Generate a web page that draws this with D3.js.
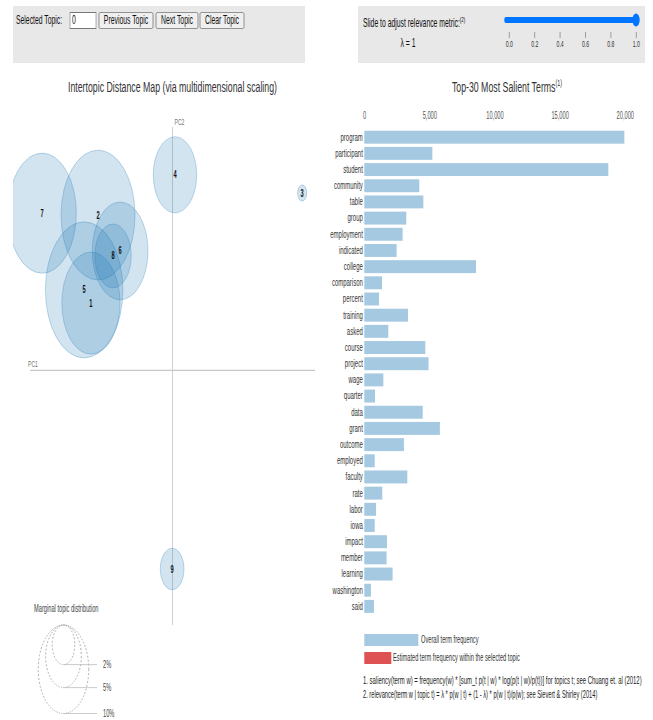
<!DOCTYPE html>
<html>
<head>
<meta charset="utf-8">
<script src="https://cdn.jsdelivr.net/npm/d3@7"></script>
<style>
  body { margin: 0; background: #fff; }
  text { font-family: "Liberation Sans", Arial, sans-serif; }
</style>
</head>
<body>
<script>
// topics (intertopic distance map)
const topicIds = [1, 2, 3, 4, 5, 6, 7, 8, 9];
const topicPC1 = [-0.229, -0.209, 0.364, 0.007, -0.248, -0.147, -0.366, -0.167, -0.001];
const topicPC2 = [0.107, 0.247, 0.282, 0.311, 0.128, 0.190, 0.250, 0.182, -0.316];
const topicPct = [13.3, 21.5, 0.33, 7.4, 23.6, 12.2, 18.4, 5.2, 2.2];   // marginal topic distribution, %

// top-30 most salient terms
const terms = ['program', 'participant', 'student', 'community', 'table', 'group', 'employment',
  'indicated', 'college', 'comparison', 'percent', 'training', 'asked', 'course', 'project', 'wage',
  'quarter', 'data', 'grant', 'outcome', 'employed', 'faculty', 'rate', 'labor', 'iowa', 'impact',
  'member', 'learning', 'washington', 'said'];
const termFreq = [19950, 5220, 18720, 4220, 4530, 3220, 2940, 2480, 8570, 1360, 1130, 3350, 1840,
  4680, 4930, 1460, 820, 4480, 5800, 3040, 800, 3300, 1380, 900, 800, 1740, 1710, 2170, 510, 740];
const freqTicks = [0, 5000, 10000, 15000, 20000];

const legendPct = [2, 5, 10];
const lambdaTicks = [0, 0.2, 0.4, 0.6, 0.8, 1.0];
const lambda = 1;
const buttons = ['Previous Topic', 'Next Topic', 'Clear Topic'];

const width = 653;
const height = 720;
const sx = 0.57;               // the whole page is drawn squeezed horizontally
const ix = v => v / sx;        // page x -> inner x

const blue = '#1f77b4';
const red = '#d62728';

const svg = d3.select('body').append('svg')
  .attr('width', width)
  .attr('height', height);

const root = svg.append('g').attr('transform', `scale(${sx},1)`);

// ---------- top control panels ----------
root.append('rect')
  .attr('x', ix(13)).attr('y', 6)
  .attr('width', ix(292)).attr('height', 57)
  .attr('fill', '#e8e8e8');
root.append('rect')
  .attr('x', ix(358)).attr('y', 6)
  .attr('width', ix(287)).attr('height', 57)
  .attr('fill', '#e8e8e8');

root.append('text')
  .attr('x', ix(16)).attr('y', 24)
  .attr('font-size', 12).attr('fill', '#111')
  .text('Selected Topic:');

root.append('rect')
  .attr('x', ix(70)).attr('y', 12.5)
  .attr('width', ix(26)).attr('height', 16)
  .attr('fill', '#fff').attr('stroke', '#777').attr('stroke-width', 1);
root.append('text')
  .attr('x', ix(72)).attr('y', 24.5)
  .attr('font-size', 12).attr('fill', '#111')
  .text('0');

const buttonX = [99, 156, 200];
const buttonW = [54, 42, 44];
buttons.forEach((b, i) => {
  root.append('rect')
    .attr('x', ix(buttonX[i])).attr('y', 12.5)
    .attr('width', ix(buttonW[i])).attr('height', 16)
    .attr('rx', 2)
    .attr('fill', '#efefef').attr('stroke', '#777').attr('stroke-width', 1);
  root.append('text')
    .attr('x', ix(buttonX[i] + buttonW[i] / 2)).attr('y', 24.5)
    .attr('text-anchor', 'middle')
    .attr('font-size', 12).attr('fill', '#111')
    .text(b);
});

// relevance slider
const sliderLabel = root.append('text')
  .attr('x', ix(363)).attr('y', 27)
  .attr('font-size', 12).attr('fill', '#111')
  .text('Slide to adjust relevance metric:');
sliderLabel.append('tspan')
  .attr('font-size', 8).attr('dy', -5)
  .text('(2)');

root.append('text')
  .attr('x', ix(408)).attr('y', 47)
  .attr('text-anchor', 'middle')
  .attr('font-size', 12).attr('fill', '#111')
  .text('\u03bb = ' + lambda);

const lam = d3.scaleLinear().domain([0, 1]).range([ix(509), ix(636)]);

root.append('line')
  .attr('x1', lam(0) - ix(3)).attr('x2', lam(lambda))
  .attr('y1', 20).attr('y2', 20)
  .attr('stroke', '#0075ff').attr('stroke-width', 6)
  .attr('stroke-linecap', 'round');
root.append('circle')
  .attr('cx', lam(lambda)).attr('cy', 20).attr('r', 6.5)
  .attr('fill', '#0075ff');

const lamAxis = root.append('g')
  .attr('transform', 'translate(0,32)')
  .call(d3.axisBottom(lam).tickValues(lambdaTicks).tickSize(6).tickPadding(3).tickFormat(d3.format('.1f')));
lamAxis.select('.domain').remove();
lamAxis.selectAll('line').attr('stroke', '#888');
lamAxis.selectAll('text').attr('font-size', 9).attr('fill', '#333')
  .attr('font-family', '"Liberation Sans", Arial, sans-serif');

// ---------- intertopic distance map ----------
root.append('text')
  .attr('x', ix(172.5)).attr('y', 92)
  .attr('text-anchor', 'middle')
  .attr('font-size', 15.4).attr('fill', '#333')
  .text('Intertopic Distance Map (via multidimensional scaling)');

const x = d3.scaleLinear().domain([-0.4, 0.4]).range([ix(30), ix(315)]);
const y = d3.scaleLinear().domain([-0.405, 0.395]).range([625, 122]);
const rad = d3.scaleSqrt().domain([0, 100]).range([0, 140]);

root.append('line')
  .attr('x1', x.range()[0]).attr('x2', x.range()[1])
  .attr('y1', y(0)).attr('y2', y(0))
  .attr('stroke', '#c8c8c8').attr('stroke-width', 1.2);
root.append('line')
  .attr('x1', x(0)).attr('x2', x(0))
  .attr('y1', 127).attr('y2', y.range()[0])
  .attr('stroke', '#c8c8c8').attr('stroke-width', 1.5);
root.append('text')
  .attr('x', ix(28)).attr('y', y(0) - 3)
  .attr('font-size', 9).attr('fill', '#777')
  .text('PC1');
root.append('text')
  .attr('x', x(0) + ix(2)).attr('y', 125)
  .attr('font-size', 9).attr('fill', '#777')
  .text('PC2');

svg.append('defs').append('clipPath').attr('id', 'mdsclip')
  .append('rect')
  .attr('x', ix(13)).attr('y', 100)
  .attr('width', ix(320)).attr('height', 540);

const topics = topicIds.map((id, i) => ({ id, pc1: topicPC1[i], pc2: topicPC2[i], pct: topicPct[i] }));

const dots = root.append('g').attr('clip-path', 'url(#mdsclip)');
dots.selectAll('circle')
  .data(topics)
  .enter()
  .append('circle')
  .attr('cx', d => x(d.pc1))
  .attr('cy', d => y(d.pc2))
  .attr('r', d => rad(d.pct))
  .attr('fill', blue).attr('fill-opacity', 0.2)
  .attr('stroke', blue).attr('stroke-opacity', 0.35).attr('stroke-width', 1);

root.selectAll('text.topic')
  .data(topics)
  .enter()
  .append('text')
  .attr('class', 'topic')
  .attr('x', d => x(d.pc1))
  .attr('y', d => y(d.pc2))
  .attr('dy', '0.35em')
  .attr('text-anchor', 'middle')
  .attr('font-size', 10).attr('font-weight', 'bold').attr('fill', '#111')
  .text(d => d.id);

// marginal topic distribution legend
root.append('text')
  .attr('x', ix(34)).attr('y', 612)
  .attr('font-size', 10).attr('fill', '#444')
  .text('Marginal topic distribution');

const legTop = 625;
const legCx = ix(63.5);
const leg = root.append('g');
leg.selectAll('circle')
  .data(legendPct)
  .enter()
  .append('circle')
  .attr('cx', legCx)
  .attr('cy', d => legTop + rad(d))
  .attr('r', d => rad(d))
  .attr('fill', 'none')
  .attr('stroke', '#999').attr('stroke-dasharray', '2 2').attr('stroke-width', 1);
leg.selectAll('line')
  .data(legendPct)
  .enter()
  .append('line')
  .attr('x1', legCx).attr('x2', ix(97))
  .attr('y1', d => legTop + 2 * rad(d))
  .attr('y2', d => legTop + 2 * rad(d))
  .attr('stroke', '#bbb').attr('stroke-width', 1);
leg.selectAll('text')
  .data(legendPct)
  .enter()
  .append('text')
  .attr('x', ix(103))
  .attr('y', d => legTop + 2 * rad(d))
  .attr('dy', '0.35em')
  .attr('font-size', 10).attr('fill', '#444')
  .text(d => d + '%');

// ---------- top-30 most salient terms ----------
const xb = d3.scaleLinear().domain([0, 20000]).range([ix(364.3), ix(625)]);
const yb = d3.scaleBand().domain(terms).range([127.5, 616.1]).padding(0.2);

const barTitle = root.append('text')
  .attr('x', ix(507)).attr('y', 92)
  .attr('text-anchor', 'middle')
  .attr('font-size', 15.4).attr('fill', '#333')
  .text('Top-30 Most Salient Terms');
barTitle.append('tspan')
  .attr('font-size', 9.5).attr('dy', -6)
  .text('(1)');

const xAxis = root.append('g')
  .attr('transform', 'translate(0,119)')
  .call(d3.axisTop(xb).tickValues(freqTicks).tickSize(0).tickPadding(0).tickFormat(d3.format(',')));
xAxis.select('.domain').remove();
xAxis.selectAll('text').attr('font-size', 10).attr('fill', '#555')
  .attr('font-family', '"Liberation Sans", Arial, sans-serif');

const bars = terms.map((t, i) => ({ term: t, freq: termFreq[i] }));
root.append('g').selectAll('rect')
  .data(bars)
  .enter()
  .append('rect')
  .attr('x', xb(0))
  .attr('y', d => yb(d.term))
  .attr('width', d => xb(d.freq) - xb(0))
  .attr('height', yb.bandwidth())
  .attr('fill', blue).attr('opacity', 0.4);

const yAxis = root.append('g')
  .attr('transform', `translate(${xb(0) - ix(1.5)},0)`)
  .call(d3.axisLeft(yb).tickSize(0).tickPadding(0));
yAxis.select('.domain').remove();
yAxis.selectAll('text').attr('font-size', 10.5).attr('fill', '#333')
  .attr('font-family', '"Liberation Sans", Arial, sans-serif');

// bar legend
root.append('rect')
  .attr('x', xb(0)).attr('y', 634)
  .attr('width', ix(54)).attr('height', 12)
  .attr('fill', blue).attr('opacity', 0.4);
root.append('text')
  .attr('x', ix(421)).attr('y', 640).attr('dy', '0.35em')
  .attr('font-size', 10).attr('fill', '#333')
  .text('Overall term frequency');
root.append('rect')
  .attr('x', xb(0)).attr('y', 652)
  .attr('width', ix(27)).attr('height', 12)
  .attr('fill', red).attr('opacity', 0.8);
root.append('text')
  .attr('x', ix(393)).attr('y', 658).attr('dy', '0.35em')
  .attr('font-size', 10).attr('fill', '#333')
  .text('Estimated term frequency within the selected topic');

root.append('text')
  .attr('x', ix(363)).attr('y', 680).attr('dy', '0.35em')
  .attr('font-size', 10.4).attr('fill', '#222')
  .text('1. saliency(term w) = frequency(w) * [sum_t p(t | w) * log(p(t | w)/p(t))] for topics t; see Chuang et. al (2012)');
root.append('text')
  .attr('x', ix(363)).attr('y', 695).attr('dy', '0.35em')
  .attr('font-size', 10).attr('fill', '#222')
  .text('2. relevance(term w | topic t) = \u03bb * p(w | t) + (1 - \u03bb) * p(w | t)/p(w); see Sievert & Shirley (2014)');
</script>
</body>
</html>
